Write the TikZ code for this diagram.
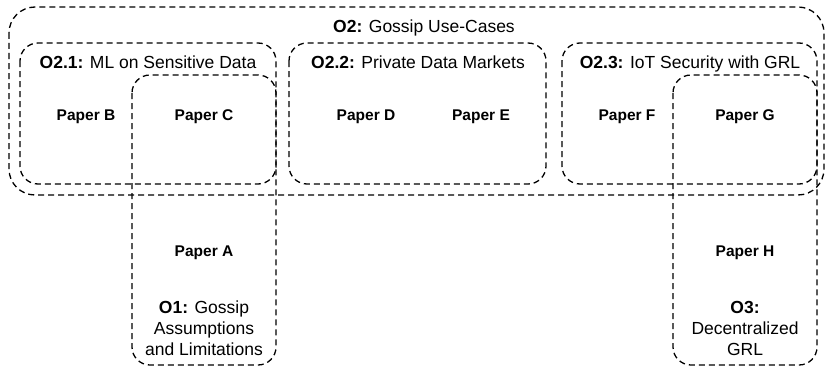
\documentclass[tikz,border=0pt]{standalone}
\usepackage{fontspec}
\setmainfont{Liberation Sans}

\begin{document}
\begin{tikzpicture}[x=1pt,y=-1pt,
    group/.style={draw, dash pattern=on 6pt off 4pt, line width=1.3pt, rounded corners=18pt},
    paper/.style={font=\fontsize{15.5}{21}\selectfont\bfseries, anchor=base, inner sep=0pt},
    goal/.style={font=\fontsize{17.5}{21}\selectfont, anchor=base, inner sep=0pt, align=center}]
      \useasboundingbox (0,0) rectangle (826,369);

      % outer objective and the three use-cases
      \draw [group, rounded corners=26pt](9,7) rectangle (824,195);
      \draw [group](20,43) rectangle (276,184);
      \draw [group](289,43) rectangle (546,184);
      \draw [group](562,43) rectangle (817,184);

      % the two tall boxes
      \draw [group](132,75) rectangle (276,365);
      \draw [group](673,75) rectangle (817,365);

      \node[goal] (o2) at (424,33) {\textbf{O2:} Gossip Use-Cases};
      \node[goal] (o21) at (148,68) {\textbf{O2.1:} ML on Sensitive Data};
      \node[goal] (o22) at (418,68) {\textbf{O2.2:} Private Data Markets};
      \node[goal] (o23) at (690,68) {\textbf{O2.3:} IoT Security with GRL};

      \node[paper] (pb) at (86,120) {Paper B};
      \node[paper] (pc) at (204,120) {Paper C};
      \node[paper] (pd) at (366,120) {Paper D};
      \node[paper] (pe) at (481,120) {Paper E};
      \node[paper] (pf) at (627,120) {Paper F};
      \node[paper] (pg) at (745,120) {Paper G};
      \node[paper] (pa) at (204,256) {Paper A};
      \node[paper] (ph) at (745,256) {Paper H};

      \node[goal] (o1) at (204,355) {\textbf{O1:} Gossip\\Assumptions\\and Limitations};
      \node[goal] (o3) at (745,355) {\textbf{O3:}\\Decentralized\\GRL};
\end{tikzpicture}
\end{document}
